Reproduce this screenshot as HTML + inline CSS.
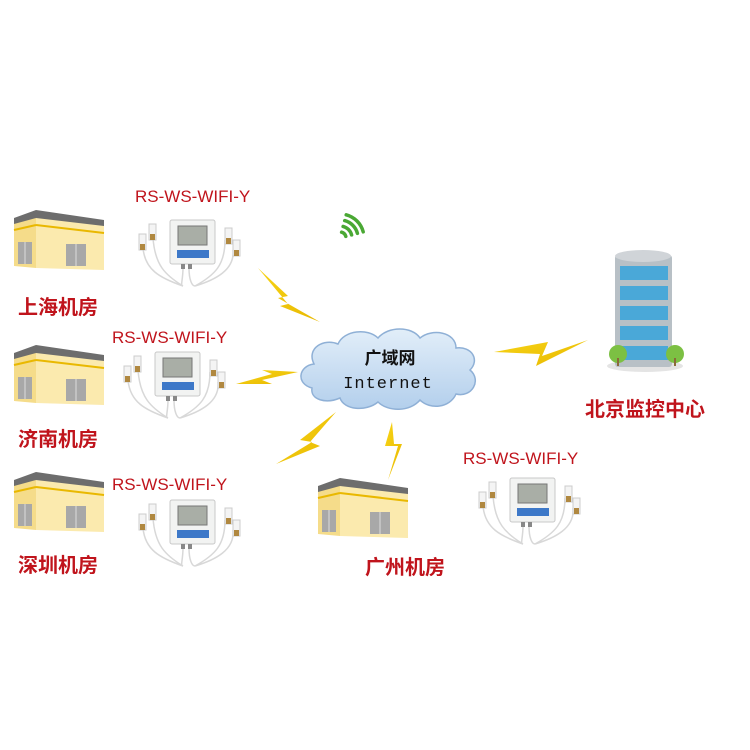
<!DOCTYPE html>
<html><head><meta charset="utf-8"><style>
html,body{margin:0;padding:0;background:#fff;width:750px;height:750px;overflow:hidden}
svg{display:block}
.red{fill:#c0141c;font-family:"Liberation Sans","Noto Sans CJK SC",sans-serif}
</style></head><body>
<svg width="750" height="750" viewBox="0 0 750 750" xmlns="http://www.w3.org/2000/svg">
<defs>
<linearGradient id="bolt" x1="0" y1="0" x2="1" y2="1"><stop offset="0" stop-color="#f7d417"/><stop offset="1" stop-color="#e8b800"/></linearGradient>
<linearGradient id="cl" x1="0" y1="0" x2="0" y2="1"><stop offset="0" stop-color="#e2eef9"/><stop offset="1" stop-color="#b3cfec"/></linearGradient>
<g id="bld">
<polygon points="0,8 22,0 90,10 90,18 22,10 0,16" fill="#6d6d6d"/>
<polygon points="0,14 22,8 22,58 0,56" fill="#f5dc8a"/>
<polygon points="22,8 90,16 90,60 22,58" fill="#fbeaae"/>
<line x1="0" y1="20" x2="22" y2="15" stroke="#e9b800" stroke-width="2"/>
<line x1="22" y1="15" x2="90" y2="23" stroke="#e9b800" stroke-width="2"/>
<rect x="4" y="32" width="14" height="22" fill="#a8a8a8"/>
<rect x="52" y="34" width="20" height="22" fill="#a8a8a8"/>
<line x1="11" y1="32" x2="11" y2="54" stroke="#ddd"/><line x1="62" y1="34" x2="62" y2="56" stroke="#ddd"/>
</g>
<g id="dev">
<path d="M28,18 C30,45 40,55 58,66 M18,28 C20,50 35,58 58,66 M58,48 C58,60 55,66 58,66 M64,48 C64,60 67,66 70,66 M100,20 C100,45 90,55 70,66 M108,30 C110,50 90,60 70,66" fill="none" stroke="#d8d8d8" stroke-width="1.5"/>
<rect x="24" y="4" width="7" height="16" fill="#f4f4f4" stroke="#ccc"/><rect x="25" y="14" width="5" height="6" fill="#b08840"/>
<rect x="14" y="14" width="7" height="16" fill="#f4f4f4" stroke="#ccc"/><rect x="15" y="24" width="5" height="6" fill="#b08840"/>
<rect x="100" y="8" width="7" height="16" fill="#f4f4f4" stroke="#ccc"/><rect x="101" y="18" width="5" height="6" fill="#b08840"/>
<rect x="108" y="20" width="7" height="16" fill="#f4f4f4" stroke="#ccc"/><rect x="109" y="30" width="5" height="6" fill="#b08840"/>
<rect x="45" y="0" width="45" height="44" rx="2" fill="#f2f3f2" stroke="#c8c8c8"/>
<rect x="53" y="6" width="29" height="19" fill="#a9aea6" stroke="#777"/>
<rect x="52" y="30" width="32" height="8" fill="#3d78c8"/>
<rect x="56" y="44" width="4" height="5" fill="#888"/><rect x="63" y="44" width="4" height="5" fill="#888"/>
</g>
<g id="bolt1"><polygon points="0,0 30,28 20,30 62,54 22,38 30,36" fill="url(#bolt)"/></g>
</defs>

<use href="#bld" transform="translate(14,210)"/>
<use href="#bld" transform="translate(14,345)"/>
<use href="#bld" transform="translate(14,472)"/>
<use href="#bld" transform="translate(318,478)"/>

<use href="#dev" transform="translate(125,220)"/>
<use href="#dev" transform="translate(110,352)"/>
<use href="#dev" transform="translate(125,500)"/>
<use href="#dev" transform="translate(465,478)"/>

<g class="red" font-size="17">
<text x="135" y="202">RS-WS-WIFI-Y</text>
<text x="112" y="343">RS-WS-WIFI-Y</text>
<text x="112" y="490">RS-WS-WIFI-Y</text>
<text x="463" y="464">RS-WS-WIFI-Y</text>
</g>
<g class="red" font-size="20" font-weight="bold">
<text x="18" y="314">上海机房</text>
<text x="18" y="446">济南机房</text>
<text x="18" y="572">深圳机房</text>
<text x="365" y="574">广州机房</text>
<text x="585" y="416">北京监控中心</text>
</g>

<use href="#bolt1" transform="translate(258,268)"/>
<polygon points="236,384 272,374 262,370 298,372 262,380 272,384" fill="url(#bolt)"/>
<polygon points="336,412 300,440 312,442 276,464 320,446 310,442" fill="url(#bolt)"/>
<polygon points="392,422 385,446 398,446 388,480 402,444 394,444" fill="url(#bolt)"/>
<polygon points="494,352 548,342 542,356 588,340 536,366 540,354" fill="url(#bolt)"/>

<g fill="none" stroke="#4aa834" stroke-width="3.5" stroke-linecap="round">
<path d="M341.6,232.2 A6,6 0 0 1 345.8,236.4"/>
<path d="M343.1,226.4 A12,12 0 0 1 351.6,234.9"/>
<path d="M344.7,220.6 A18,18 0 0 1 357.4,233.3"/>
<path d="M346.2,214.8 A24,24 0 0 1 363.2,231.8"/>
</g>

<path d="M312,388 C296,384 298,366 314,364 C306,348 324,338 338,344 C344,330 368,328 378,338 C388,326 412,326 420,338 C432,328 456,332 456,348 C472,346 480,360 470,370 C482,380 472,398 456,394 C450,408 430,410 420,400 C410,412 388,412 378,402 C366,412 344,410 340,398 C326,404 310,400 312,388 Z" fill="url(#cl)" stroke="#8fb0d6" stroke-width="1.5"/>
<text x="390" y="364" text-anchor="middle" font-family="'Liberation Sans','Noto Sans CJK SC',sans-serif" font-size="17" font-weight="bold" fill="#111">广域网</text>
<text x="388" y="388" text-anchor="middle" font-family="'Liberation Mono',monospace" font-size="17" fill="#111" letter-spacing="1">Internet</text>

<ellipse cx="645" cy="366" rx="38" ry="6" fill="#e4e4e4"/>
<rect x="615" y="255" width="57" height="112" rx="3" fill="#b8c0c6"/>
<ellipse cx="643" cy="256" rx="28" ry="6" fill="#d0d4d8"/>
<g fill="#4aa8d8">
<rect x="620" y="266" width="48" height="14"/><rect x="620" y="286" width="48" height="14"/>
<rect x="620" y="306" width="48" height="14"/><rect x="620" y="326" width="48" height="14"/>
<rect x="620" y="346" width="48" height="14"/>
</g>
<circle cx="618" cy="354" r="9" fill="#7cc043"/><rect x="617" y="358" width="2" height="8" fill="#8a6a3a"/>
<circle cx="675" cy="354" r="9" fill="#7cc043"/><rect x="674" y="358" width="2" height="8" fill="#8a6a3a"/>
</svg>
</body></html>
